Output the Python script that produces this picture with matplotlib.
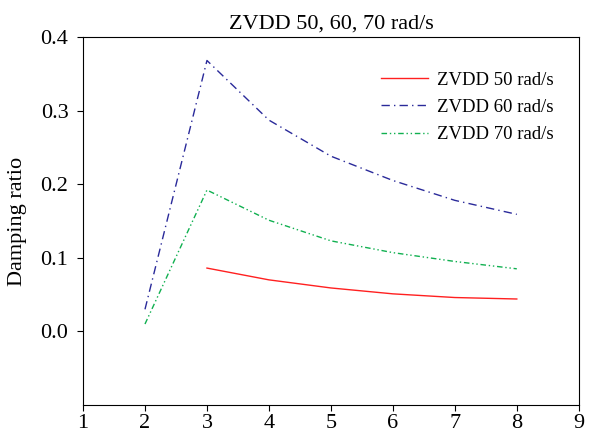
import matplotlib
matplotlib.use("Agg")
import matplotlib.pyplot as plt

plt.rcParams['font.family'] = ['Liberation Serif', 'DejaVu Serif']

x_50 = [3, 4, 5, 6, 7, 8]
zvdd_50 = [0.086, 0.070, 0.059, 0.051, 0.046, 0.044]
x_60 = [2, 3, 4, 5, 6, 7, 8]
zvdd_60 = [0.030, 0.368, 0.287, 0.238, 0.205, 0.178, 0.159]
x_70 = [2, 3, 4, 5, 6, 7, 8]
zvdd_70 = [0.010, 0.192, 0.151, 0.123, 0.107, 0.095, 0.085]

fig = plt.figure(figsize=(5.93, 4.32), dpi=100)
ax = fig.add_axes([0.14, 0.0625, 0.836, 0.852])

ax.plot(x_50, zvdd_50, color='#ff2020', lw=1.0, label='ZVDD 50 rad/s')
ax.plot(x_60, zvdd_60, color='#2a2a9a', lw=1.0, dashes=(6, 3, 1, 3), label='ZVDD 60 rad/s')
ax.plot(x_70, zvdd_70, color='#10b050', lw=1.0, dashes=(4, 2, 1, 2, 1, 2), label='ZVDD 70 rad/s')

ax.set_xlim(1, 9)
ax.set_ylim(-0.1, 0.4)
ax.set_xticks(range(1, 10))
ax.set_yticks([0.0, 0.1, 0.2, 0.3, 0.4])
ax.set_yticklabels(['0.0', '0.1', '0.2', '0.3', '0.4'])
ax.tick_params(direction='out', labelsize=16, length=4.5, top=False, right=False)
ax.tick_params(axis='x', pad=2)
ax.tick_params(axis='y', pad=6)
ax.set_ylabel('Damping ratio', fontsize=16, labelpad=10)
ax.set_title('ZVDD 50, 60, 70 rad/s', fontsize=16, pad=6)
ax.legend(loc='upper right', frameon=False, fontsize=13.5, bbox_to_anchor=(0.984, 0.952),
          handlelength=2.5, handletextpad=0.5, labelspacing=0.55)

fig.savefig('out.png', dpi=100)
